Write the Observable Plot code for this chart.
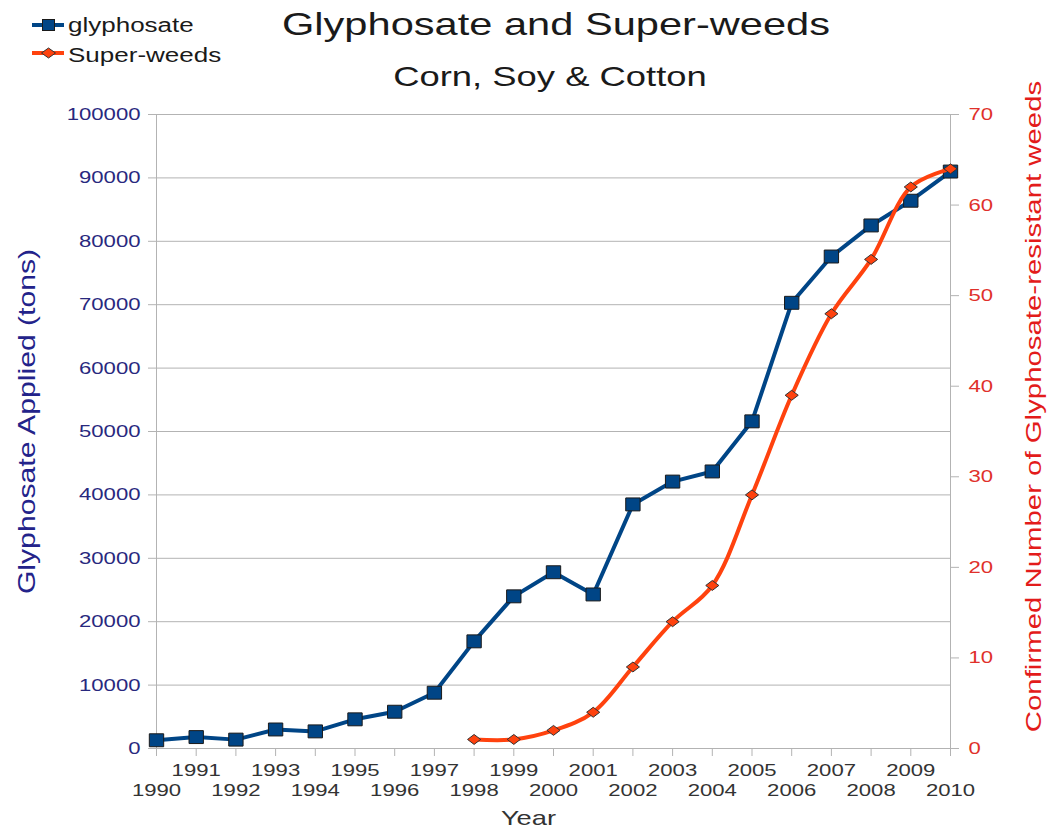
<!DOCTYPE html>
<html><head><meta charset="utf-8">
<script src="https://cdn.jsdelivr.net/npm/d3@7"></script>
<script src="https://cdn.jsdelivr.net/npm/@observablehq/plot@0.6"></script>
<style>
body{margin:0;background:#fff;font-family:"Liberation Sans",Arial,sans-serif;}
#wrap{position:relative;width:1052px;height:829px;overflow:hidden;background:#fff;}
#head{position:relative;width:1052px;height:100px;}
.t{position:absolute;white-space:nowrap;line-height:1;color:#1a1a1a;}
.c{transform:translateX(-50%) scaleX(1.3);transform-origin:50% 50%;}
.l{transform:scaleX(1.3);transform-origin:0 50%;font-size:20px;}
.sym{position:absolute;}
</style></head><body>
<div id="wrap">
  <div id="head">
    <div class="t c" style="font-size:32px;left:556px;top:8px;">Glyphosate and Super-weeds</div>
    <div class="t c" style="font-size:28px;left:550px;top:63px;">Corn, Soy &amp; Cotton</div>
    <svg class="sym" style="left:31px;top:17px" width="34" height="16">
      <line x1="1" y1="8" x2="33" y2="8" stroke="#004586" stroke-width="4"/>
      <rect x="11.5" y="2.5" width="12" height="11" fill="#004586" stroke="#1a1a1a" stroke-width="1"/>
    </svg>
    <div class="t l" style="left:68px;top:15px;">glyphosate</div>
    <svg class="sym" style="left:31px;top:45px" width="34" height="16">
      <line x1="1" y1="8" x2="33" y2="8" stroke="#ff420e" stroke-width="4"/>
      <polygon points="10.5,8 17.5,3 24.5,8 17.5,13" fill="#ff420e" stroke="#333" stroke-width="1"/>
    </svg>
    <div class="t l" style="left:68px;top:45px;">Super-weeds</div>
  </div>
  <div id="plot"></div>
</div>
<script>
// ---- data ----
const years = [1990,1991,1992,1993,1994,1995,1996,1997,1998,1999,2000,2001,2002,2003,2004,2005,2006,2007,2008,2009,2010];
const glyphosate = [1300,1800,1400,3000,2700,4600,5800,8800,16900,24000,27800,24300,38500,42100,43700,51600,70300,77600,82500,86400,91000];
const weedYears = [1998,1999,2000,2001,2002,2003,2004,2005,2006,2007,2008,2009,2010];
const superWeeds = [1,1,2,4,9,14,18,28,39,48,54,62,64];
const leftTicks = [0,10000,20000,30000,40000,50000,60000,70000,80000,90000,100000];
const rightTicks = [0,10,20,30,40,50,60,70];
const oddYears = [1991,1993,1995,1997,1999,2001,2003,2005,2007,2009];
const evenYears = [1990,1992,1994,1996,1998,2000,2002,2004,2006,2008,2010];
const leftMax = 100000, rightMax = 70;
const k = leftMax / rightMax;

const glyData = years.map((y, i) => ({year: y, v: glyphosate[i]}));
const weedData = weedYears.map((y, i) => ({year: y, n: superWeeds[i]}));

const squareSym = {draw(ctx, size){ const s = Math.sqrt(size); const w = 0.81*s, h = 0.73*s;
  ctx.moveTo(-w,-h); ctx.lineTo(w,-h); ctx.lineTo(w,h); ctx.lineTo(-w,h); ctx.closePath(); }};
const diamondSym = {draw(ctx, size){ const s = Math.sqrt(size); const w = 0.74*s, h = 0.56*s;
  ctx.moveTo(-w,0); ctx.lineTo(0,-h); ctx.lineTo(w,0); ctx.lineTo(0,h); ctx.closePath(); }};

const gray = "#b3b3b3";
const chart = Plot.plot({
  width: 1052, height: 729,
  marginTop: 14, marginBottom: 81, marginLeft: 156, marginRight: 102,
  style: {fontFamily: '"Liberation Sans", Arial, sans-serif', fontSize: "17px", background: "transparent", overflow: "visible"},
  x: {domain: [1990, 2010]},
  y: {domain: [0, leftMax]},
  marks: [
    Plot.gridY(leftTicks, {stroke: gray, strokeOpacity: 1}),
    Plot.ruleX([1990, 2010], {stroke: gray}),
    Plot.axisY(leftTicks, {anchor: "left", tickSize: 8, tickPadding: 8, stroke: gray, fill: "#28287e", tickFormat: d => String(d), label: null}),
    Plot.axisY(rightTicks.map(d => d * k), {anchor: "right", tickSize: 8, tickPadding: 10, stroke: gray, fill: "#e0302a", tickFormat: d => String(Math.round(d / k)), label: null}),
    Plot.axisX(years, {anchor: "bottom", tickSize: 8, stroke: gray, tickFormat: () => "", label: null}),
    Plot.axisX(oddYears, {anchor: "bottom", tickSize: 0, tickPadding: 15, fill: "#333", tickFormat: d => String(d), label: null}),
    Plot.axisX(evenYears, {anchor: "bottom", tickSize: 0, tickPadding: 35, fill: "#333", tickFormat: d => String(d), label: null}),
    Plot.text(["Glyphosate Applied (tons)"], {text: d => d, frameAnchor: "left", textAnchor: "middle", rotate: -90, dx: -129, dy: -10, fontSize: 23.2, fill: "#23238a", ariaLabel: "ytitle"}),
    Plot.text(["Confirmed Number of Glyphosate-resistant weeds"], {text: d => d, frameAnchor: "right", textAnchor: "middle", rotate: -90, dx: 83, dy: -25, fontSize: 22.6, fill: "#e31b1b", ariaLabel: "ytitle"}),
    Plot.text(["Year"], {text: d => d, frameAnchor: "bottom", dx: -25, dy: 76, fontSize: 21, fill: "#333"}),
    Plot.line(glyData, {x: "year", y: "v", stroke: "#004586", strokeWidth: 4}),
    Plot.dot(glyData, {x: "year", y: "v", symbol: squareSym, r: 5, fill: "#004586", stroke: "#1a1a1a", strokeWidth: 1}),
    Plot.line(weedData, {x: "year", y: d => d.n * k, stroke: "#ff420e", strokeWidth: 4, curve: "catmull-rom"}),
    Plot.dot(weedData, {x: "year", y: d => d.n * k, symbol: diamondSym, r: 5, fill: "#ff420e", stroke: "#333", strokeWidth: 1})
  ]
});
document.getElementById("plot").append(chart);
// texts in the reference are drawn wide (horizontally stretched)
chart.querySelectorAll("text").forEach(t => {
  if (t.closest('g[aria-label="ytitle"]')) {
    const tr = t.getAttribute("transform");
    if (tr && tr.includes("rotate")) t.setAttribute("transform", tr + " scale(1,1.3)");
    return;
  }
  const L = t.getComputedTextLength();
  if (L > 0) { t.setAttribute("textLength", (L * 1.3).toFixed(1)); t.setAttribute("lengthAdjust", "spacingAndGlyphs"); }
});
</script>
</body></html>
